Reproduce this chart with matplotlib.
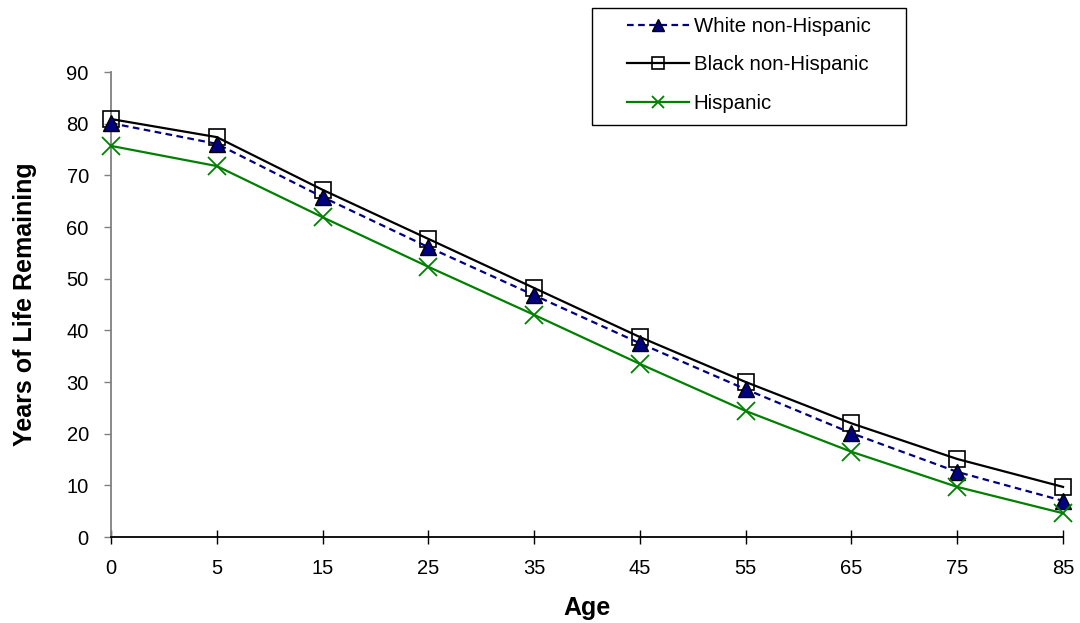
import matplotlib
matplotlib.use("Agg")
import matplotlib.pyplot as plt
from matplotlib.patches import Rectangle

ages = ["0", "5", "15", "25", "35", "45", "55", "65", "75", "85"]
white = [80.1, 76.1, 65.8, 56.1, 46.8, 37.5, 28.6, 20.1, 12.6, 7.0]
black = [80.9, 77.4, 67.2, 57.7, 48.2, 38.7, 30.0, 22.0, 15.1, 9.7]
hispanic = [75.7, 71.8, 61.9, 52.3, 43.0, 33.5, 24.4, 16.5, 9.7, 4.6]
yticks = [0, 10, 20, 30, 40, 50, 60, 70, 80, 90]

plt.rcParams['font.family'] = ['Liberation Sans', 'DejaVu Sans']

fig = plt.figure(figsize=(10.8, 6.23), dpi=100)
ax = fig.add_axes([0.1028, 0.138, 0.8815, 0.7464])
x = list(range(len(ages)))

l1, = ax.plot(x, white, color='#000080', linestyle=(0, (3, 2)), linewidth=1.6,
              marker='^', markersize=11, markerfacecolor='#000080',
              markeredgecolor='black', markeredgewidth=1.0, label='White non-Hispanic',
              zorder=4, clip_on=False)
l2, = ax.plot(x, black, color='black', linewidth=1.6, marker='s', markersize=11,
              markerfacecolor='none', markeredgecolor='black', markeredgewidth=1.2,
              label='Black non-Hispanic', zorder=3, clip_on=False)
l3, = ax.plot(x, hispanic, color='#008000', linewidth=1.6, marker='x', markersize=13,
              markeredgewidth=1.3, label='Hispanic', zorder=5, clip_on=False)

ax.set_xlim(0, len(ages) - 1)
ax.set_ylim(0, 90)
ax.set_xticks(x)
ax.set_xticklabels(ages, fontsize=14.5)
ax.set_yticks(yticks)
ax.set_yticklabels([str(v) for v in yticks], fontsize=14.5)
ax.tick_params(axis='x', direction='inout', length=10, width=1, pad=11)
ax.tick_params(axis='y', direction='out', length=5, width=1, color='#808080', pad=11)

for s in ['top', 'right']:
    ax.spines[s].set_visible(False)
ax.spines['left'].set_color('#808080')
ax.spines['left'].set_linewidth(1.3)
ax.spines['bottom'].set_color('black')
ax.spines['bottom'].set_linewidth(1.3)

ax.set_xlabel('Age', fontsize=18, fontweight='bold', labelpad=13)
ax.set_ylabel('Years of Life Remaining', fontsize=18, fontweight='bold', labelpad=21)

# legend frame
bx, by, bw, bh = 0.548, 0.799, 0.291, 0.188
fig.patches.append(Rectangle((bx, by), bw, bh, transform=fig.transFigure,
                             facecolor='white', edgecolor='black', linewidth=1.0))
leg = fig.legend(handles=[l1, l2, l3], loc='center',
                 bbox_to_anchor=(bx + bw / 2, by + bh / 2 + 0.003),
                 fontsize=14.7, frameon=False,
                 handlelength=3.0, handletextpad=0.25, labelspacing=0.95,
                 borderpad=0.0, borderaxespad=0)
for h in leg.legend_handles:
    h.set_markersize(8)

fig.savefig('out.png', dpi=100)
